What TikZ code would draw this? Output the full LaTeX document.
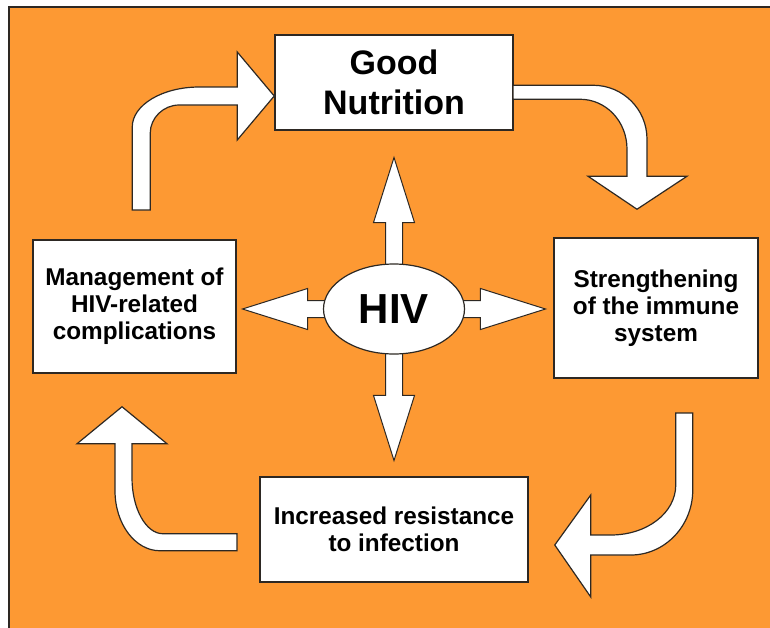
\documentclass[tikz,border=0pt]{standalone}
\usepackage{fontspec}
\setmainfont{Liberation Sans}
\usepackage{tikz}
\usetikzlibrary{calc,shapes.geometric,shapes.arrows}
\definecolor{cyclebg}{RGB}{253,153,51}
\definecolor{edgegray}{RGB}{45,40,35}
\tikzset{
  stagebox/.style={draw=edgegray,fill=white,line width=1.5pt,align=center,
    inner sep=0pt,font=\bfseries\fontsize{24.3}{27}\selectfont},
  hivnode/.style={ellipse,draw=edgegray,fill=white,line width=1.2pt,
    minimum width=141pt,minimum height=90pt,inner sep=0pt,
    font=\bfseries\fontsize{42}{42}\selectfont},
  spoke/.style={single arrow,draw=edgegray,fill=white,line width=1pt,
    minimum height=151pt,inner xsep=0pt,inner ysep=8pt,
    single arrow head extend=12pt,single arrow tip angle=35,anchor=tail},
  bendarrow/.style={draw=edgegray,fill=white,line width=1.2pt,line join=miter}
}
\begin{document}
\begin{tikzpicture}[x=1pt,y=-1pt]
  \useasboundingbox (0,0) rectangle (770,627);
  \fill[white] (0,0) rectangle (770,627);
  \draw[fill=cyclebg,draw=edgegray,line width=2pt] (9,7) rectangle (780,640);

  % the four stages of the cycle
  \node[stagebox,minimum width=238pt,minimum height=95pt,
    font=\bfseries\fontsize{34}{40}\selectfont] (nutrition) at (394,82.5) {Good\\Nutrition};
  \node[stagebox,minimum width=204pt,minimum height=140pt] (strength) at (656,308) {Strengthening\\of the immune\\system};
  \node[stagebox,minimum width=268pt,minimum height=105pt] (resist) at (394,529.5) {Increased resistance\\to infection};
  \node[stagebox,minimum width=203pt,minimum height=133pt] (mgmt) at (134.5,306.5) {Management of\\HIV-related\\complications};

  % HIV in the middle, pointing at every stage
  \coordinate (hc) at (394,309);
  \foreach \ang/\nm in {90/spokeN,0/spokeE,270/spokeS,180/spokeW}
    \node[spoke,rotate=\ang] (\nm) at (hc) {};
  \node[hivnode] (hiv) at (hc) {HIV};

  % bent arrows round the cycle, drawn from their tips
  \coordinate (tipA) at ($(nutrition.west)+(0,13.5)$);
  \coordinate (tipB) at ($(strength.north)+(-19,-28)$);
  \coordinate (tipC) at ($(resist.east)+(26,15.5)$);
  \coordinate (tipD) at ($(mgmt.south)+(-12.5,33)$);

  \draw[bendarrow,shift={(tipA)}] (0,0) -- (-37,-44) -- (-37,-9) -- (-75,-9)
    .. controls (-112,-9) and (-142,9) .. (-142,31) -- (-142,114) -- (-124,114) -- (-124,37)
    .. controls (-124,22) and (-111,9) .. (-95,9) -- (-37,9) -- (-37,44) -- cycle;
  \draw[bendarrow,shift={(tipB)}] (0,0) -- (50,-33) -- (10,-33) -- (10,-70)
    .. controls (10,-100) and (-14,-124) .. (-44,-124) -- (-124,-124) -- (-124,-110) -- (-57,-110)
    .. controls (-31,-110) and (-10,-88) .. (-10,-60) -- (-10,-33) -- (-49,-33) -- cycle;
  \draw[bendarrow,shift={(tipC)}] (0,0) -- (36,-50) -- (36,-10) -- (56,-10)
    .. controls (92,-10) and (121,-32) .. (121,-60) -- (121,-132) -- (138,-132) -- (138,-55)
    .. controls (138,-19) and (110,10) .. (76,10) -- (36,10) -- (36,52) -- cycle;
  \draw[bendarrow,shift={(tipD)}] (0,0) -- (45,37) -- (10,37) -- (10,71)
    .. controls (10,102) and (24,127) .. (41,127) -- (115,127) -- (115,144) -- (38,144)
    .. controls (13,144) and (-7,117) .. (-7,84) -- (-7,37) -- (-45,37) -- cycle;
\end{tikzpicture}
\end{document}
